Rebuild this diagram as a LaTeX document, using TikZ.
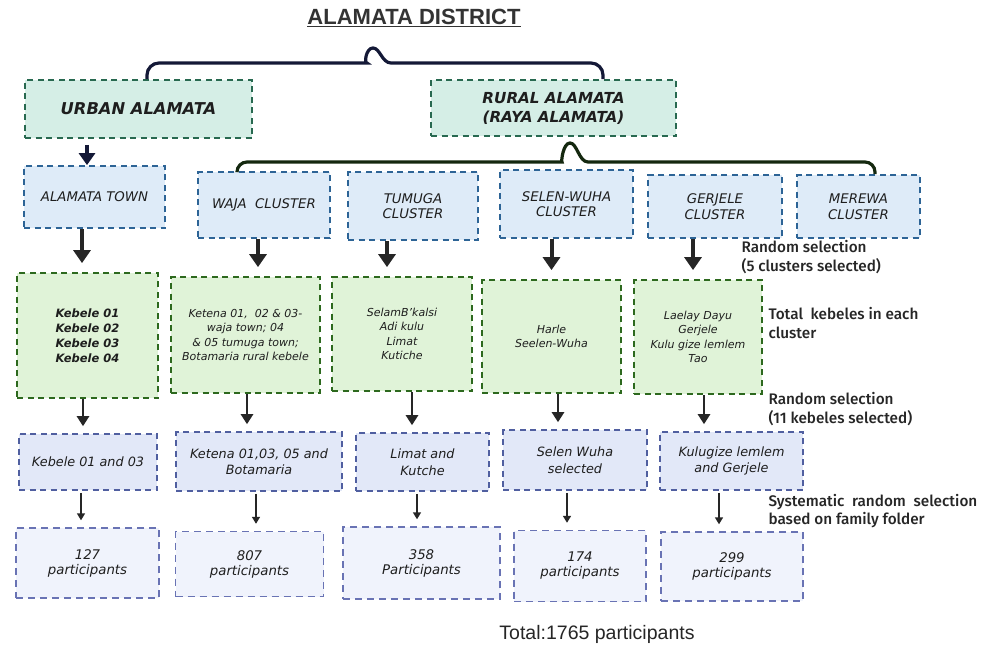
\documentclass[tikz,border=0pt]{standalone}
\usepackage{fontspec}
\setmainfont{DejaVu Sans}
\newfontfamily\lblfont{Fira Sans Medium}
\newfontfamily\titlefont{Liberation Sans}
\newfontfamily\totfont{Liberation Sans}
\usepackage{tikz}
\usetikzlibrary{arrows.meta}

\definecolor{regionfill}{RGB}{213,238,230}
\definecolor{regionline}{RGB}{40,105,80}
\definecolor{clusterfill}{RGB}{222,235,248}
\definecolor{clusterline}{RGB}{45,100,150}
\definecolor{kebfill}{RGB}{224,243,216}
\definecolor{kebline}{RGB}{45,105,30}
\definecolor{selfill}{RGB}{226,232,248}
\definecolor{selline}{RGB}{80,95,160}
\definecolor{partfill}{RGB}{240,243,252}
\definecolor{partline}{RGB}{105,115,180}
\definecolor{bracenavy}{RGB}{20,25,55}
\definecolor{bracegreen}{RGB}{20,40,15}
\definecolor{boxtext}{RGB}{30,30,30}

\begin{document}
\begin{tikzpicture}[x=1pt, y=-1pt,
  boxbase/.style={draw, line width=1.8pt, dash pattern=on 6pt off 4.5pt,
    inner sep=0pt, align=center, text=boxtext},
  regionbox/.style={boxbase, fill=regionfill, draw=regionline,
    font=\bfseries\itshape\fontsize{15.2}{19}\selectfont},
  clusterbox/.style={boxbase, fill=clusterfill, draw=clusterline,
    font=\itshape\fontsize{13.3}{15.5}\selectfont},
  kebelebox/.style={boxbase, fill=kebfill, draw=kebline,
    font=\itshape\fontsize{11}{14.3}\selectfont},
  selbox/.style={boxbase, fill=selfill, draw=selline, line width=1.6pt,
    font=\itshape\fontsize{12.8}{16.5}\selectfont},
  partbox/.style={boxbase, fill=partfill, draw=partline, line width=1.4pt,
    dash pattern=on 7pt off 5pt, font=\itshape\fontsize{13.3}{15}\selectfont},
  steplabel/.style={anchor=west, align=left, text=black!85,
    font=\lblfont\fontsize{15.3}{18.5}\selectfont},
  bigarrow/.style={line width=4pt, black!85, -{Triangle[width=17pt,length=13pt]}},
  midarrow/.style={line width=2.5pt, black!85, -{Triangle[width=12pt,length=10pt]}},
  thinarrow/.style={line width=1.5pt, black!85, -{Triangle[width=8pt,length=7pt]}}]

  % Page frame
  \fill[white] (0,0) rectangle (987,645);
  \useasboundingbox (0,0) rectangle (987,645);

  % Title
  \node[font=\titlefont\bfseries\fontsize{22}{26}\selectfont, text=black!80] (title) at (414,18)
    {\underline{ALAMATA DISTRICT}};

  % Urban and rural parts
  \node[regionbox, minimum width=227pt, minimum height=58pt,
    font=\bfseries\itshape\fontsize{16.3}{19}\selectfont] (urban) at (138.5,109) {URBAN ALAMATA};
  \node[regionbox, minimum width=245pt, minimum height=56pt] (rural) at (553.5,108) {RURAL ALAMATA\\(RAYA ALAMATA)};

  % Brace from the district to both parts
  \draw[bracenavy, line width=3.2pt] ([xshift=8.5pt]urban.north) [rounded corners=12pt] |- (355,63)
    [sharp corners] .. controls (364,63) and (366,48) .. (373,48)
    .. controls (380,48) and (382,63) .. (391,63)
    [rounded corners=12pt] -| ([xshift=49.5pt]rural.north);

  % Town and clusters
  \node[clusterbox, minimum width=141pt, minimum height=62pt] (town) at (94.5,197) {ALAMATA TOWN};
  \node[clusterbox, minimum width=132pt, minimum height=66pt] (waja) at (264,205) {WAJA\ \ CLUSTER};
  \node[clusterbox, minimum width=130pt, minimum height=68pt] (tumuga) at (413,206) {TUMUGA\\CLUSTER};
  \node[clusterbox, minimum width=133pt, minimum height=68pt] (selen) at (566.5,204) {SELEN-WUHA\\CLUSTER};
  \node[clusterbox, minimum width=134pt, minimum height=63pt] (gerjele) at (715,206.5) {GERJELE\\CLUSTER};
  \node[clusterbox, minimum width=123pt, minimum height=63pt] (merewa) at (858.5,206.5) {MEREWA\\CLUSTER};

  % Brace from rural part to the clusters
  \draw[bracegreen, line width=3.2pt] ([xshift=-27pt]waja.north) [rounded corners=10pt] |- (552,162)
    [sharp corners] .. controls (561,162) and (563,143) .. (570,143)
    .. controls (577,143) and (579,162) .. (588,162)
    [rounded corners=10pt] -| ([xshift=16.5pt]merewa.north);

  % Urban part to town
  \draw[line width=4pt, bracenavy, -{Triangle[width=16pt,length=12pt]}, shorten <=6pt]
    ([xshift=-51.5pt]urban.south) -- ([xshift=-51.5pt]urban.south |- town.north);

  % Kebeles in each cluster
  \node[kebelebox, minimum width=141pt, minimum height=125pt,
    font=\bfseries\itshape\fontsize{11.5}{15}\selectfont] (kb1) at (87.5,335.5)
    {Kebele 01\\Kebele 02\\Kebele 03\\Kebele 04};
  \node[kebelebox, minimum width=149pt, minimum height=116pt] (kb2) at (245.5,335)
    {Ketena 01,\ \ 02 \& 03-\\waja town; 04\\\& 05 tumuga town;\\Botamaria rural kebele};
  \node[kebelebox, minimum width=140pt, minimum height=114pt] (kb3) at (402,334)
    {SelamB'kalsi\\Adi kulu\\Limat\\Kutiche};
  \node[kebelebox, minimum width=139pt, minimum height=113pt] (kb4) at (551.5,336.5)
    {Harle\\Seelen-Wuha};
  \node[kebelebox, minimum width=128pt, minimum height=114pt] (kb5) at (698,337)
    {Laelay Dayu\\Gerjele\\Kulu gize lemlem\\Tao};

  % Selected kebeles
  \node[selbox, minimum width=138pt, minimum height=56pt] (sel1) at (88,462) {Kebele 01 and 03};
  \node[selbox, minimum width=166pt, minimum height=59pt] (sel2) at (259,461.5) {Ketena 01,03, 05 and\\Botamaria};
  \node[selbox, minimum width=133pt, minimum height=58pt] (sel3) at (422.5,462) {Limat and\\Kutche};
  \node[selbox, minimum width=144pt, minimum height=60pt] (sel4) at (575,460) {Selen Wuha\\selected};
  \node[selbox, minimum width=143pt, minimum height=58pt] (sel5) at (731.5,461) {Kulugize lemlem\\and Gerjele};

  % Participants
  \node[partbox, minimum width=143pt, minimum height=70pt] (p1) at (87.5,563) {127\\participants};
  \node[partbox, minimum width=148pt, minimum height=65pt] (p2) at (249.5,564) {807\\participants};
  \node[partbox, minimum width=157pt, minimum height=72pt] (p3) at (421.5,563) {358\\Participants};
  \node[partbox, minimum width=132pt, minimum height=71pt] (p4) at (580,566) {174\\participants};
  \node[partbox, minimum width=142pt, minimum height=69pt] (p5) at (732,566.5) {299\\participants};

  % Arrows between the rows
  \foreach \a/\b/\dx in {town/kb1/-12.5, waja/kb2/-6, tumuga/kb3/-26, selen/kb4/-15, gerjele/kb5/-22}
    \draw[bigarrow, shorten >=9pt] ([xshift=\dx pt]\a.south) -- ([xshift=\dx pt]\a.south |- \b.north);
  \foreach \a/\b/\dx in {kb1/sel1/-4.5, kb2/sel2/1.5, kb3/sel3/10, kb4/sel4/6.5, kb5/sel5/6}
    \draw[midarrow, shorten >=7pt] ([xshift=\dx pt]\a.south) -- ([xshift=\dx pt]\a.south |- \b.north);
  \foreach \a/\b/\dx in {sel1/p1/-7, sel2/p2/-3, sel3/p3/-5.5, sel4/p4/-8, sel5/p5/-12.5}
    \draw[thinarrow, shorten <=2pt, shorten >=7pt] ([xshift=\dx pt]\a.south) -- ([xshift=\dx pt]\a.south |- \b.north);

  % Notes on the right
  \node[steplabel] (note1) at (738,257) {Random selection\\(5 clusters selected)};
  \node[steplabel] (note2) at (765,323) {Total\ \ kebeles in each\\cluster};
  \node[steplabel] (note3) at (765,409) {Random selection\\(11 kebeles selected)};
  \node[steplabel] (note4) at (765,511) {Systematic\ \ random\ \ selection\\based on family folder};

  % Total
  \node[font=\totfont\fontsize{19.5}{22}\selectfont, text=black!85] (total) at (597,634) {Total:1765 participants};

\end{tikzpicture}
\end{document}
